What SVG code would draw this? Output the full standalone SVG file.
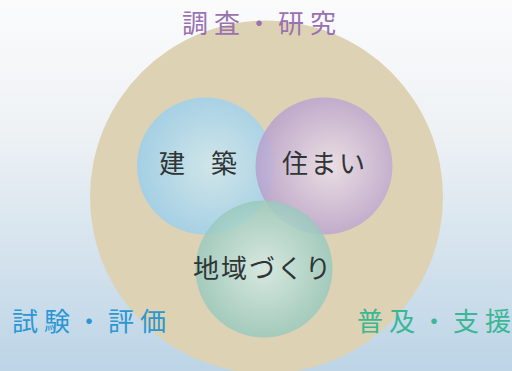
<svg xmlns="http://www.w3.org/2000/svg" width="512" height="371" viewBox="0 0 512 371">
<style>
.lbl{font-family:"Noto Sans CJK JP","Noto Sans CJK SC",sans-serif;font-size:26px}
.in{font-family:"Noto Sans CJK JP","Noto Sans CJK SC",sans-serif;font-size:26px;fill:#2f3436}
</style>
<defs>
<linearGradient id="bg" x1="0" y1="0" x2="0" y2="1">
<stop offset="0" stop-color="#fbfbfc"/>
<stop offset="0.35" stop-color="#eef2f5"/>
<stop offset="1" stop-color="#bcd4e6"/>
</linearGradient>
<radialGradient id="gb" cx="0.55" cy="0.5" r="0.55">
<stop offset="0" stop-color="#cfe7ee"/>
<stop offset="1" stop-color="#9fcfe8"/>
</radialGradient>
<radialGradient id="gp" cx="0.55" cy="0.5" r="0.55">
<stop offset="0" stop-color="#ece0ea"/>
<stop offset="1" stop-color="#b79fcd"/>
</radialGradient>
<radialGradient id="gg" cx="0.5" cy="0.5" r="0.55">
<stop offset="0" stop-color="#d6ebe6"/>
<stop offset="1" stop-color="#93c6b9"/>
</radialGradient>
</defs>
<rect width="512" height="371" fill="url(#bg)"/>
<g id="outer"><circle cx="266.5" cy="197" r="176.5" fill="#ddd2b3"/></g>
<g id="kenchiku"><circle cx="205.5" cy="166" r="68.5" fill="url(#gb)" opacity="0.92"/><text class="in" x="159" y="173" xml:space="preserve">建　築</text></g>
<g id="sumai"><circle cx="324" cy="166" r="68.5" fill="url(#gp)" opacity="0.85"/><text class="in" x="282 310.5 339" y="173">住まい</text></g>
<g id="chiiki"><circle cx="264" cy="269" r="68.5" fill="url(#gg)" opacity="0.85"/><text class="in" x="193 221 249 277 305" y="278">地域づくり</text></g>
<g id="labels">
<text class="lbl" x="182 214 246 278 310" y="33" fill="#9a72b2">調査・研究</text>
<text class="lbl" x="12 44 76 108 140" y="331" fill="#2b97d4">試験・評価</text>
<text class="lbl" x="357 389 421 453 485" y="331" fill="#3ab795">普及・支援</text>
</g>
</svg>
